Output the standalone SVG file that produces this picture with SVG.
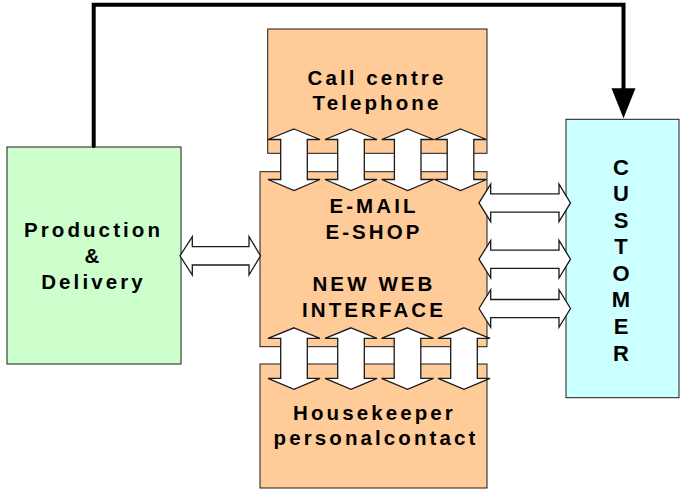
<svg xmlns="http://www.w3.org/2000/svg" xmlns:xlink="http://www.w3.org/1999/xlink" width="681" height="490" viewBox="0 0 681 490">
  <style>
    .box { stroke: #1a1a1a; stroke-width: 1; }
    .orange { fill: #FFCC99; }
    .green { fill: #CCFFCC; }
    .cyan { fill: #CCFFFF; }
    .dbl { fill: #FFFFFF; stroke: #1a1a1a; stroke-width: 1.3; stroke-linejoin: miter; }
    .flow { fill: none; stroke: #000; stroke-width: 4; stroke-linecap: round; stroke-linejoin: miter; }
    .lbl { font-family: "Liberation Sans", Arial, sans-serif; font-weight: bold; font-size: 20.5px; letter-spacing: 3.1px; fill: #000; text-anchor: middle; }
    .vert { font-size: 22px; letter-spacing: 0; }
  </style>
  <defs>
    <!-- vertical two-headed block arrow, centred on its origin -->
    <polygon id="vArrow" points="0,-30.5 26,-20 13.3,-20 13.3,20 26,20 0,31 -26,20 -13.3,20 -13.3,-20 -26,-20"/>
  </defs>

  <!-- boxes -->
  <g id="production">
    <rect class="box green" x="7" y="147" width="174" height="217"/>
    <text class="lbl" x="93.5" y="237">Production</text>
    <text class="lbl" x="93.5" y="263">&amp;</text>
    <text class="lbl" x="93.5" y="288.5">Delivery</text>
  </g>

  <g id="call-centre">
    <rect class="box orange" x="267.7" y="29" width="219.3" height="124.3"/>
    <text class="lbl" x="377" y="85">Call centre</text>
    <text class="lbl" x="377" y="110">Telephone</text>
  </g>

  <g id="web-interface">
    <rect class="box orange" x="260" y="171.7" width="227" height="175"/>
    <text class="lbl" x="374" y="212.5">E-MAIL</text>
    <text class="lbl" x="374" y="238.5">E-SHOP</text>
    <text class="lbl" x="374" y="290.5">NEW WEB</text>
    <text class="lbl" x="374" y="316.5">INTERFACE</text>
  </g>

  <g id="housekeeper">
    <rect class="box orange" x="260" y="364" width="227" height="124"/>
    <text class="lbl" x="374.5" y="419.5">Housekeeper</text>
    <text class="lbl" x="376" y="444.5">personalcontact</text>
  </g>

  <g id="customer">
    <rect class="box cyan" x="566" y="119.3" width="113" height="278.4"/>
    <text class="lbl vert" x="621" y="174.5">C</text>
    <text class="lbl vert" x="621" y="201">U</text>
    <text class="lbl vert" x="621" y="227.6">S</text>
    <text class="lbl vert" x="621" y="254.2">T</text>
    <text class="lbl vert" x="621" y="280.8">O</text>
    <text class="lbl vert" x="621" y="307.4">M</text>
    <text class="lbl vert" x="621" y="334">E</text>
    <text class="lbl vert" x="621" y="360.6">R</text>
  </g>

  <!-- connectors -->
  <g id="connectors">
    <!-- delivery route from production over the top to the customer -->
    <path class="flow" d="M93.7,146 V4.7 H623.5 V92"/>
    <polygon points="611.5,88.3 635.5,88.3 623.5,118.3" fill="#000"/>

    <!-- call centre <-> web interface -->
    <use xlink:href="#vArrow" class="dbl" x="294" y="159.5"/>
    <use xlink:href="#vArrow" class="dbl" x="351" y="159.5"/>
    <use xlink:href="#vArrow" class="dbl" x="407.7" y="159.5"/>
    <use xlink:href="#vArrow" class="dbl" x="460.5" y="159.5"/>

    <!-- web interface <-> housekeeper -->
    <use xlink:href="#vArrow" class="dbl" x="294" y="358.3"/>
    <use xlink:href="#vArrow" class="dbl" x="351" y="358.3"/>
    <use xlink:href="#vArrow" class="dbl" x="407.5" y="358.3"/>
    <use xlink:href="#vArrow" class="dbl" x="464" y="358.3"/>

    <!-- production <-> web interface -->
    <polygon class="dbl" points="180,255.8 192.3,236.6 192.3,246.6 249,246.6 249,236.6 260.5,255.8 249,275 249,265 192.3,265 192.3,275"/>

    <!-- web interface <-> customer -->
    <polygon class="dbl" points="479,202.9 490.7,184.1 490.7,193.9 559,193.9 559,184.1 570.5,202.9 559,221.7 559,212.1 490.7,212.1 490.7,221.7"/>
    <polygon class="dbl" points="479,259.2 490.7,240.4 490.7,250.2 559,250.2 559,240.4 570.5,259.2 559,278 559,268.4 490.7,268.4 490.7,278"/>
    <polygon class="dbl" points="479,308.5 490.7,289.7 490.7,299.5 559,299.5 559,289.7 570.5,308.5 559,327.3 559,317.7 490.7,317.7 490.7,327.3"/>
  </g>
</svg>
